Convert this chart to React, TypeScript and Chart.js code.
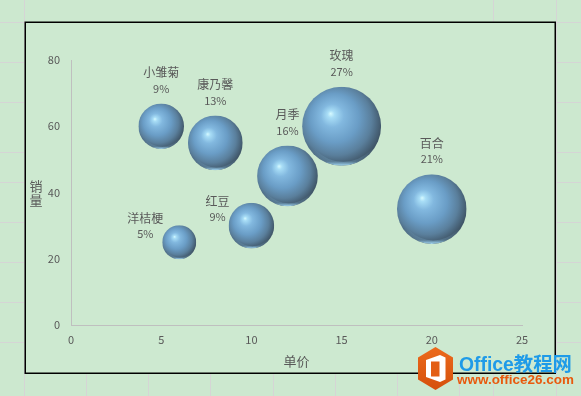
import { useEffect, useRef } from 'react';
import { Chart, registerables } from 'chart.js';

Chart.register(...registerables);

const names = ['小雏菊', '康乃馨', '月季', '玫瑰', '百合', '红豆', '洋桔梗'];
const prices = [5, 8, 12, 15, 20, 10, 6];
const sales = [60, 55, 45, 60, 35, 30, 25];
const shares = [9, 13, 16, 27, 21, 9, 5];
const labelSide = ['above', 'above', 'above', 'above', 'above', 'left', 'left'];

const xTitle = '单价';
const yTitle = '销量';
const xMin = 0, xMax = 25, xStep = 5;
const yMin = 0, yMax = 80, yStep = 20;

const BUBBLE_SCALE = 7.6;
const FONT = '"Noto Sans CJK SC", "Noto Sans", sans-serif';
const TEXT = '#595959';

function drawBubble(c: CanvasRenderingContext2D, x: number, y: number, r: number) {
  c.save();
  c.beginPath();
  c.arc(x, y, r, 0, Math.PI * 2);
  c.clip();
  const g = c.createRadialGradient(x - 0.28 * r, y - 0.32 * r, 0, x - 0.1 * r, y - 0.12 * r, 1.12 * r);
  g.addColorStop(0, '#d6faff');
  g.addColorStop(0.08, '#a8ddf6');
  g.addColorStop(0.26, '#82b8df');
  g.addColorStop(0.55, '#6a9dc6');
  g.addColorStop(0.8, '#5a7f9c');
  g.addColorStop(1, '#405668');
  c.fillStyle = g;
  c.fillRect(x - r, y - r, 2 * r, 2 * r);
  // bottom rim reflection
  const g2 = c.createLinearGradient(x, y + 0.55 * r, x, y + r);
  g2.addColorStop(0, 'rgba(150,210,245,0)');
  g2.addColorStop(0.75, 'rgba(150,210,245,0.2)');
  g2.addColorStop(1, 'rgba(175,228,255,0.95)');
  c.fillStyle = g2;
  c.beginPath();
  c.arc(x, y, r, 0, Math.PI * 2);
  c.arc(x + 0.04 * r, y - 0.06 * r, r * 0.96, 0, Math.PI * 2, true);
  c.fill();
  c.restore();
}

const bgPlugin = {
  id: 'bg',
  beforeDraw(chart: any) {
    const c: CanvasRenderingContext2D = chart.ctx;
    c.save();
    c.fillStyle = '#cce8cf';
    c.fillRect(0, 0, chart.width, chart.height);
    c.strokeStyle = '#d5d5d5';
    c.lineWidth = 1;
    const hy = [22, 62, 102, 152, 182, 222, 262, 302, 342];
    c.beginPath();
    for (const y of hy) {
      c.moveTo(0, y + 0.5); c.lineTo(25, y + 0.5);
      c.moveTo(555, y + 0.5); c.lineTo(581, y + 0.5);
    }
    for (const x of [24, 556]) { c.moveTo(x + 0.5, 0); c.lineTo(x + 0.5, 396); }
    c.moveTo(493.5, 0); c.lineTo(493.5, 22);
    for (const x of [86, 148, 210, 273, 335, 397, 459, 493]) { c.moveTo(x + 0.5, 373); c.lineTo(x + 0.5, 396); }
    c.stroke();
    c.fillStyle = '#cde9d0';
    c.fillRect(25, 22, 530, 351);
    c.strokeStyle = '#000';
    c.lineWidth = 1.5;
    c.strokeRect(25.25, 22.25, 530, 351);
    c.restore();
  },
};

const bubblePlugin = {
  id: 'bubbles3d',
  afterDatasetsDraw(chart: any) {
    const c: CanvasRenderingContext2D = chart.ctx;
    const meta = chart.getDatasetMeta(0);
    meta.data.forEach((el: any, i: number) => {
      const r = el.options.radius;
      drawBubble(c, el.x, el.y, r);
      c.save();
      c.fillStyle = TEXT;
      c.textBaseline = 'middle';
      const pct = shares[i] + '%';
      if (labelSide[i] === 'left') {
        c.font = `12px ${FONT}`;
        const w = c.measureText(names[i]).width;
        const cx = el.x - r + 1 - w / 2;
        c.textAlign = 'center';
        c.fillText(names[i], cx, el.y - 24);
        c.font = `11px ${FONT}`;
        c.fillText(pct, cx, el.y - 8.5);
      } else {
        c.textAlign = 'center';
        c.font = `12px ${FONT}`;
        c.fillText(names[i], el.x, el.y - r - 31);
        c.font = `11px ${FONT}`;
        c.fillText(pct, el.x, el.y - r - 15);
      }
      c.restore();
    });
  },
};

function fitText(c: CanvasRenderingContext2D, text: string, x: number, y: number, w: number, font: (s: number) => string) {
  let size = 20;
  c.font = font(size);
  const m = c.measureText(text).width;
  size = size * w / m;
  c.font = font(size);
  c.fillText(text, x, y);
}

const overlayPlugin = {
  id: 'overlay',
  afterDraw(chart: any) {
    const c: CanvasRenderingContext2D = chart.ctx;
    const area = chart.chartArea;
    c.save();
    c.fillStyle = TEXT;
    c.font = `13px ${FONT}`;
    c.textAlign = 'center';
    c.textBaseline = 'middle';
    c.fillText(xTitle, (area.left + area.right) / 2, 361);
    const chars = Array.from(yTitle);
    chars.forEach((ch, k) => c.fillText(ch, 36, 186 + k * 14));

    // watermark logo
    const cx = 435.5;
    c.beginPath();
    c.moveTo(cx, 347);
    c.lineTo(453, 357.5);
    c.lineTo(453, 379.5);
    c.lineTo(cx, 390);
    c.lineTo(418, 379.5);
    c.lineTo(418, 357.5);
    c.closePath();
    const hg = c.createLinearGradient(0, 347, 0, 390);
    hg.addColorStop(0, '#ec6a1c');
    hg.addColorStop(1, '#d5500c');
    c.fillStyle = hg;
    c.fill();
    c.fillStyle = '#ffffff';
    c.beginPath();
    c.moveTo(426, 360);
    c.lineTo(440, 355);
    c.lineTo(445.5, 357.5);
    c.lineTo(445.5, 379.5);
    c.lineTo(440, 382);
    c.lineTo(426, 377);
    c.closePath();
    c.fill();
    c.fillStyle = '#e35e15';
    c.fillRect(431, 361.5, 8.5, 15);
    c.fillStyle = '#ffffff';
    c.fillRect(426, 360, 5, 17);

    c.textAlign = 'left';
    c.textBaseline = 'alphabetic';
    c.fillStyle = '#1f9be8';
    fitText(c, 'Office教程网', 459, 371, 113, (s) => `bold ${s}px "Liberation Sans", "Noto Sans CJK SC", sans-serif`);
    c.fillStyle = '#e85a0e';
    fitText(c, 'www.office26.com', 457, 384, 117, (s) => `bold ${s}px "Liberation Sans", "Noto Sans", sans-serif`);
    c.restore();
  },
};

export default function App() {
  const ref = useRef<HTMLCanvasElement | null>(null);
  useEffect(() => {
    if (!ref.current) return;
    const data = names.map((_, i) => ({ x: prices[i], y: sales[i], r: Math.sqrt(shares[i]) * BUBBLE_SCALE }));
    const chart = new Chart(ref.current, {
      type: 'bubble',
      data: {
        datasets: [
          {
            label: yTitle,
            data,
            backgroundColor: 'rgba(0,0,0,0)',
            borderColor: 'rgba(0,0,0,0)',
            borderWidth: 0,
            hoverRadius: 0,
            clip: false as any,
          },
        ],
      },
      options: {
        responsive: false,
        animation: false,
        devicePixelRatio: 1,
        events: [],
        layout: { padding: { left: 0, top: 60, right: 59, bottom: 0 }, autoPadding: false },
        plugins: { legend: { display: false }, tooltip: { enabled: false } },
        scales: {
          x: {
            type: 'linear',
            min: xMin,
            max: xMax,
            ticks: { stepSize: xStep, color: TEXT, font: { family: FONT, size: 11 }, padding: 8 },
            grid: { display: false, drawTicks: false },
            border: { display: true, color: '#bfbfbf', width: 1 },
            afterFit(s: any) { s.height = 71; },
          },
          y: {
            type: 'linear',
            min: yMin,
            max: yMax,
            ticks: { stepSize: yStep, color: TEXT, font: { family: FONT, size: 11 }, padding: 11 },
            grid: { display: false, drawTicks: false },
            border: { display: true, color: '#bfbfbf', width: 1 },
            afterFit(s: any) { s.width = 71; },
          },
        },
      } as any,
      plugins: [bgPlugin, bubblePlugin, overlayPlugin],
    });
    return () => chart.destroy();
  }, []);
  return (
    <div style={{ position: 'fixed', left: 0, top: 0, width: 581, height: 396 }}>
      <canvas ref={ref} width={581} height={396} style={{ display: 'block', width: 581, height: 396 }} />
    </div>
  );
}
